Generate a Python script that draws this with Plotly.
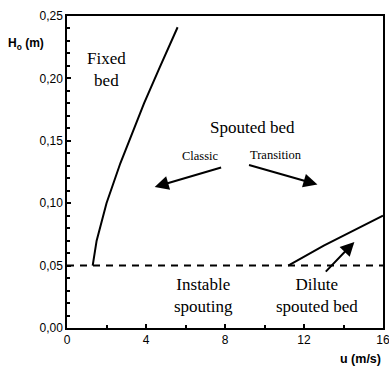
import plotly.graph_objects as go

# Boundary curves (u in m/s, H0 in m)
fixed_u = [1.3, 1.5, 2.0, 2.7, 3.3, 3.9, 4.7, 5.6]
fixed_h = [0.05, 0.07, 0.10, 0.132, 0.156, 0.18, 0.209, 0.241]

dilute_u = [11.2, 12.0, 13.0, 14.0, 15.0, 16.0]
dilute_h = [0.05, 0.057, 0.066, 0.074, 0.082, 0.090]

limit_u = [0, 16]
limit_h = [0.05, 0.05]

# Region labels
label_text = ["Fixed<br>bed", "Spouted bed", "Instable<br>spouting", "Dilute<br>spouted bed"]
label_u = [2.02, 9.39, 6.92, 12.68]
label_h = [0.2075, 0.161, 0.0264, 0.0264]

small_text = ["Classic", "Transition"]
small_u = [6.77, 10.56]
small_h = [0.138, 0.139]

# Arrows (tail -> tip)
arrow_tail_u = [7.88, 9.14, 13.03]
arrow_tail_h = [0.129, 0.131, 0.044]
arrow_tip_u = [4.44, 12.68, 14.55]
arrow_tip_h = [0.113, 0.115, 0.069]

x_ticks = [0, 4, 8, 12, 16]
y_ticks = [0.0, 0.05, 0.10, 0.15, 0.20, 0.25]

serif = "Liberation Serif, Times New Roman, serif"
sans = "Liberation Sans, Arial, sans-serif"

fig = go.Figure()
fig.add_trace(go.Scatter(x=fixed_u, y=fixed_h, mode="lines",
                         line=dict(color="black", width=2), hoverinfo="skip"))
fig.add_trace(go.Scatter(x=dilute_u, y=dilute_h, mode="lines",
                         line=dict(color="black", width=2), hoverinfo="skip"))
fig.add_trace(go.Scatter(x=limit_u, y=limit_h, mode="lines",
                         line=dict(color="black", width=2, dash="7px,6px"), hoverinfo="skip"))

annotations = []
for t, u, h in zip(label_text, label_u, label_h):
    annotations.append(dict(x=u, y=h, xref="x", yref="y", text=t, showarrow=False,
                            font=dict(family=serif, size=17, color="black"),
                            xanchor="center", yanchor="middle"))
for t, u, h in zip(small_text, small_u, small_h):
    annotations.append(dict(x=u, y=h, xref="x", yref="y", text=t, showarrow=False,
                            font=dict(family=serif, size=12.5, color="black"),
                            xanchor="center", yanchor="middle"))
for tu, th, pu, ph in zip(arrow_tail_u, arrow_tail_h, arrow_tip_u, arrow_tip_h):
    annotations.append(dict(x=pu, y=ph, ax=tu, ay=th, xref="x", yref="y",
                            axref="x", ayref="y", text="", showarrow=True,
                            arrowhead=2, arrowsize=1.4, arrowwidth=2,
                            arrowcolor="black", standoff=0, startstandoff=0))
annotations.append(dict(x=-0.13, y=0.91, xref="paper", yref="paper",
                        text="<b>H<sub>o</sub> (m)</b>", showarrow=False,
                        font=dict(family=sans, size=12, color="black"),
                        xanchor="center", yanchor="middle"))
annotations.append(dict(x=1.0, y=-0.099, xref="paper", yref="paper",
                        text="<b>u (m/s)</b>", showarrow=False,
                        font=dict(family=sans, size=12.5, color="black"),
                        xanchor="right", yanchor="middle"))

fig.update_layout(
    width=389, height=372,
    margin=dict(l=67, r=6, t=16, b=44, autoexpand=False),
    paper_bgcolor="white", plot_bgcolor="white",
    showlegend=False,
    separators=", ",
    annotations=annotations,
    xaxis=dict(range=[0, 16], tickvals=x_ticks, ticks="inside", ticklen=4,
               tickwidth=1.5, tickcolor="black", automargin=False,
               ticklabeloverflow="allow",
               showline=True, linecolor="black", linewidth=1.5, mirror=True,
               showgrid=False, zeroline=False,
               tickfont=dict(family=sans, size=12, color="black"),
               minor=dict(dtick=2, ticks="inside", ticklen=3, tickcolor="black")),
    yaxis=dict(range=[0, 0.25], tickvals=y_ticks, tickformat=".2f",
               ticks="inside", ticklen=4, tickwidth=1.5, tickcolor="black",
               automargin=False, ticklabeloverflow="allow",
               showline=True, linecolor="black", linewidth=1.5, mirror=True,
               showgrid=False, zeroline=False,
               tickfont=dict(family=sans, size=12, color="black"),
               minor=dict(dtick=0.01, ticks="inside", ticklen=3, tickcolor="black")),
)

fig.write_html("out.html", config={"displayModeBar": False},
               post_script="document.body.style.margin='0px';document.body.style.overflow='hidden';")
